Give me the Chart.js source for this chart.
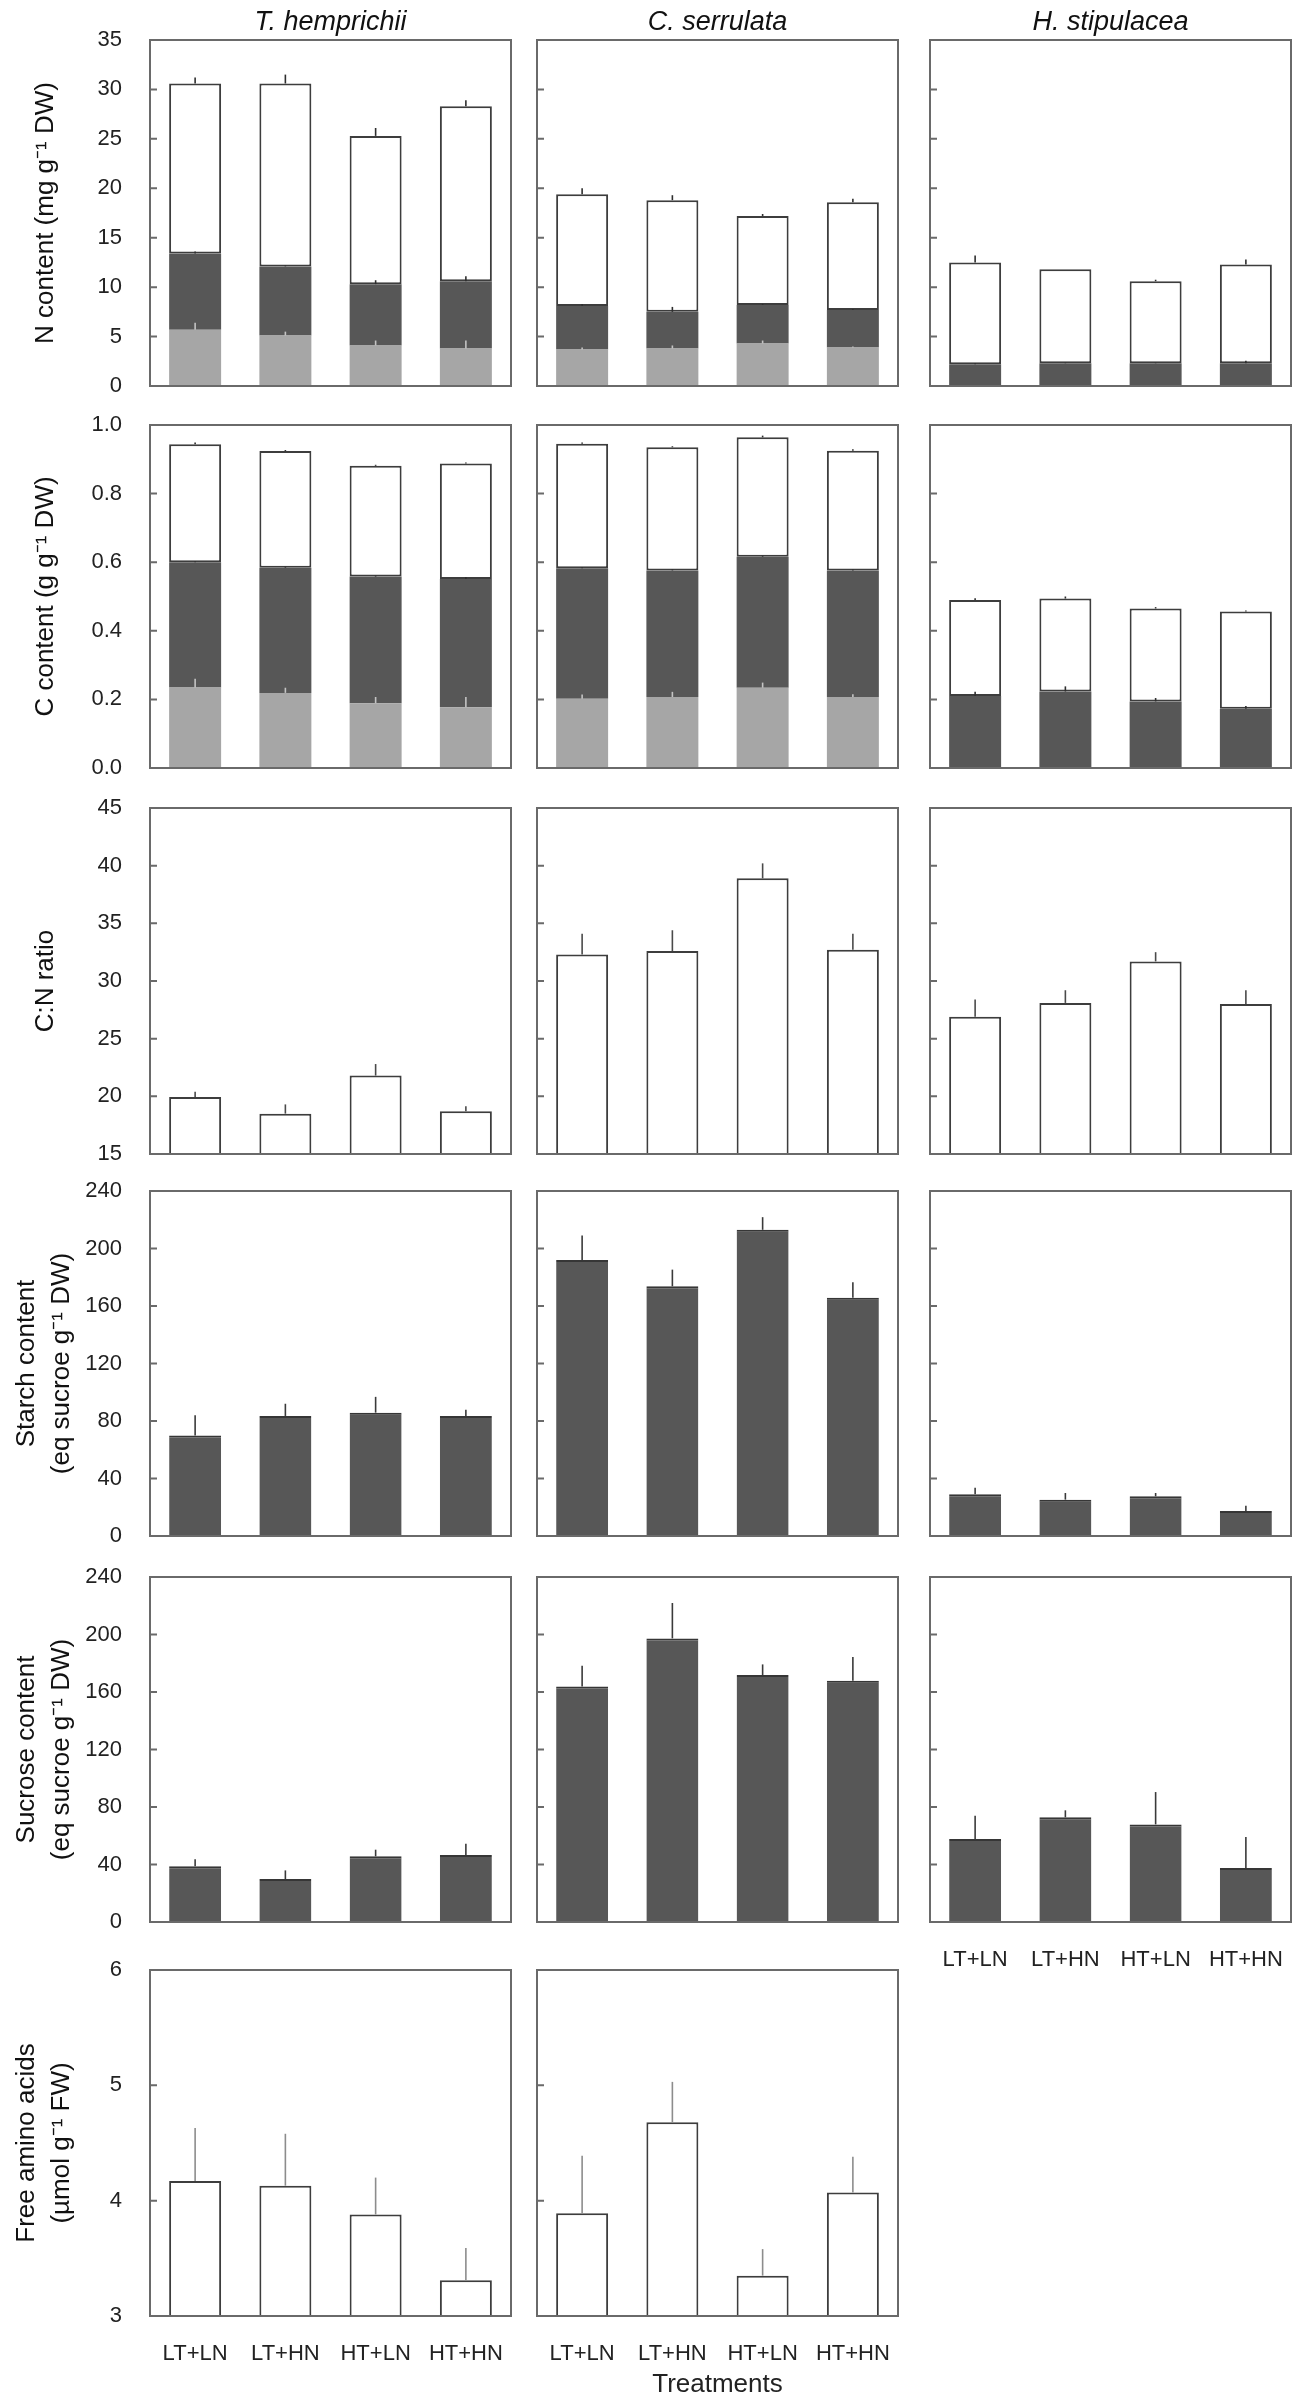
<!DOCTYPE html>
<html><head><meta charset="utf-8">
<script src="https://cdn.jsdelivr.net/npm/chart.js@4.4.1/dist/chart.umd.min.js"></script>
<style>
html,body{margin:0;padding:0;background:#fff;}
#fig{position:relative;width:1313px;height:2400px;background:#fff;overflow:hidden;}
#fig canvas{position:absolute;}
</style></head><body><div id="fig"></div>
<script>
// ---------------- DATA ----------------
const treatments = ['LT+LN', 'LT+HN', 'HT+LN', 'HT+HN'];
const species = ['T. hemprichii', 'C. serrulata', 'H. stipulacea'];

// N content (mg g-1 DW) — stacked segments (bottom light, middle dark, top white)
const nLowTh = [5.7, 5.1, 4.1, 3.8];      const nLowThErr = [0.7, 0.4, 0.5, 0.8];
const nMidTh = [7.7, 7.0, 6.2, 6.8];      const nMidThErr = [0.2, 0.1, 0.4, 0.5];
const nTopTh = [17.2, 18.5, 15.0, 17.7];  const nTopThErr = [0.6, 0.9, 0.8, 0.6];
const nLowCs = [3.7, 3.8, 4.3, 3.9];      const nLowCsErr = [0.2, 0.3, 0.3, 0.1];
const nMidCs = [4.4, 3.7, 3.9, 3.8];      const nMidCsErr = [0.2, 0.5, 0.1, 0.1];
const nTopCs = [11.3, 11.3, 9.0, 10.9];   const nTopCsErr = [0.6, 0.5, 0.2, 0.35];
const nMidHs = [2.2, 2.3, 2.3, 2.3];      const nMidHsErr = [0.1, 0.05, 0.05, 0.25];
const nTopHs = [10.3, 9.5, 8.3, 10.0];    const nTopHsErr = [0.7, 0, 0.15, 0.5];

// C content (g g-1 DW) — stacked segments
const cLowTh = [0.235, 0.219, 0.189, 0.177]; const cLowThErr = [0.025, 0.015, 0.018, 0.03];
const cMidTh = [0.365, 0.365, 0.369, 0.374]; const cMidThErr = [0.003, 0.003, 0.003, 0.006];
const cTopTh = [0.344, 0.340, 0.323, 0.337]; const cTopThErr = [0.005, 0.003, 0.003, 0.003];
const cLowCs = [0.202, 0.207, 0.234, 0.207]; const cLowCsErr = [0.012, 0.015, 0.015, 0.008];
const cMidCs = [0.380, 0.369, 0.382, 0.369]; const cMidCsErr = [0.003, 0.003, 0.003, 0.003];
const cTopCs = [0.363, 0.359, 0.348, 0.349]; const cTopCsErr = [0.004, 0.003, 0.005, 0.004];
const cMidHs = [0.210, 0.223, 0.194, 0.173]; const cMidHsErr = [0.012, 0.015, 0.01, 0.008];
const cTopHs = [0.280, 0.271, 0.271, 0.283]; const cTopHsErr = [0.005, 0.006, 0.004, 0.003];

// C:N ratio
const cnTh = [19.95, 18.5, 21.8, 18.7];  const cnThErr = [0.45, 0.8, 1.0, 0.45];
const cnCs = [32.3, 32.6, 38.9, 32.7];   const cnCsErr = [1.8, 1.8, 1.3, 1.4];
const cnHs = [26.9, 28.1, 31.7, 28.0];   const cnHsErr = [1.5, 1.1, 0.8, 1.2];

// Starch content (eq sucrose g-1 DW)
const starchTh = [70, 83.5, 85.8, 83.5];     const starchThErr = [14, 8.5, 11, 4.4];
const starchCs = [192, 173.7, 213, 165.8];   const starchCsErr = [17, 11.6, 8.8, 10.7];
const starchHs = [29, 25.3, 27.6, 17.4];     const starchHsErr = [4.6, 4.6, 2.3, 3.7];

// Sucrose content (eq sucrose g-1 DW)
const sucroseTh = [38.7, 29.9, 45.7, 46.6];     const sucroseThErr = [5, 6, 4.6, 7.9];
const sucroseCs = [163.9, 197.3, 171.8, 167.9]; const sucroseCsErr = [14.4, 24.6, 7.4, 16.5];
const sucroseHs = [57.7, 72.8, 67.9, 37.6];     const sucroseHsErr = [16.2, 4.9, 22.5, 21.6];

// Free amino acids (umol g-1 FW)
const aminoTh = [4.17, 4.13, 3.88, 3.31];  const aminoThErr = [0.46, 0.45, 0.32, 0.28];
const aminoCs = [3.89, 4.68, 3.35, 4.07];  const aminoCsErr = [0.5, 0.35, 0.23, 0.31];

// Tick values and labels
const nTicks = [0, 5, 10, 15, 20, 25, 30, 35];
const nTickLabels = ['0', '5', '10', '15', '20', '25', '30', '35'];
const cTicks = [0, 0.2, 0.4, 0.6, 0.8, 1.0];
const cTickLabels = ['0.0', '0.2', '0.4', '0.6', '0.8', '1.0'];
const cnTicks = [15, 20, 25, 30, 35, 40, 45];
const cnTickLabels = ['15', '20', '25', '30', '35', '40', '45'];
const sugarTicks = [0, 40, 80, 120, 160, 200, 240];
const sugarTickLabels = ['0', '40', '80', '120', '160', '200', '240'];
const aminoTicks = [3, 4, 5, 6];
const aminoTickLabels = ['3', '4', '5', '6'];

// ---------------- LAYOUT / STYLE ----------------
const FONT = "'Liberation Sans', Arial, Helvetica, sans-serif";
const frameLeft = [150, 537, 930];
const frameRight = [511, 898, 1291];
const frameTop = [40, 425, 808, 1191, 1577, 1970];
const frameBottom = [386, 768, 1154, 1536, 1922, 2316];

const styles = {
  light: {backgroundColor: '#a6a6a6', borderWidth: 0, errorColor: '#c4c4c4'},
  dark:  {backgroundColor: '#575757', borderWidth: 0, errorColor: '#2e2e2e'},
  white: {backgroundColor: '#ffffff', borderColor: '#3d3d3d', borderWidth: 2, borderSkipped: false, errorColor: '#2e2e2e'},
  solid: {backgroundColor: '#575757', borderColor: '#363636', borderWidth: {top: 2, left: 0, right: 0, bottom: 0}, borderSkipped: false, errorColor: '#3a3a3a'},
  open:  {backgroundColor: '#ffffff', borderColor: '#3d3d3d', borderWidth: 2, borderSkipped: false, errorColor: '#4a4a4a'},
  openGray: {backgroundColor: '#ffffff', borderColor: '#3d3d3d', borderWidth: 2, borderSkipped: false, errorColor: '#8c8c8c'}
};

function ds(values, errs, kind) {
  return Object.assign({data: values, errors: errs, barPercentage: 0.576, categoryPercentage: 1.0}, styles[kind]);
}

const rows = [
  {title: 'N content (mg g⁻¹ DW)', min: 0, max: 35, ticks: nTicks, labels: nTickLabels, stacked: true,
   sets: [
     [ds(nLowTh, nLowThErr, 'light'), ds(nMidTh, nMidThErr, 'dark'), ds(nTopTh, nTopThErr, 'white')],
     [ds(nLowCs, nLowCsErr, 'light'), ds(nMidCs, nMidCsErr, 'dark'), ds(nTopCs, nTopCsErr, 'white')],
     [ds(nMidHs, nMidHsErr, 'dark'), ds(nTopHs, nTopHsErr, 'white')]
   ]},
  {title: 'C content (g g⁻¹ DW)', min: 0, max: 1.0, ticks: cTicks, labels: cTickLabels, stacked: true,
   sets: [
     [ds(cLowTh, cLowThErr, 'light'), ds(cMidTh, cMidThErr, 'dark'), ds(cTopTh, cTopThErr, 'white')],
     [ds(cLowCs, cLowCsErr, 'light'), ds(cMidCs, cMidCsErr, 'dark'), ds(cTopCs, cTopCsErr, 'white')],
     [ds(cMidHs, cMidHsErr, 'dark'), ds(cTopHs, cTopHsErr, 'white')]
   ]},
  {title: 'C:N ratio', min: 15, max: 45, ticks: cnTicks, labels: cnTickLabels, stacked: false,
   sets: [[ds(cnTh, cnThErr, 'open')], [ds(cnCs, cnCsErr, 'open')], [ds(cnHs, cnHsErr, 'open')]]},
  {title: ['Starch content', '(eq sucroe g⁻¹ DW)'], min: 0, max: 240, ticks: sugarTicks, labels: sugarTickLabels, stacked: false,
   sets: [[ds(starchTh, starchThErr, 'solid')], [ds(starchCs, starchCsErr, 'solid')], [ds(starchHs, starchHsErr, 'solid')]]},
  {title: ['Sucrose content', '(eq sucroe g⁻¹ DW)'], min: 0, max: 240, ticks: sugarTicks, labels: sugarTickLabels, stacked: false,
   sets: [[ds(sucroseTh, sucroseThErr, 'solid')], [ds(sucroseCs, sucroseCsErr, 'solid')], [ds(sucroseHs, sucroseHsErr, 'solid')]]},
  {title: ['Free amino acids', '(µmol g⁻¹ FW)'], min: 3, max: 6, ticks: aminoTicks, labels: aminoTickLabels, stacked: false,
   sets: [[ds(aminoTh, aminoThErr, 'openGray')], [ds(aminoCs, aminoCsErr, 'openGray')]]}
];

// panels showing x tick labels, and the one carrying the "Treatments" title
const labelPanels = ['4-2', '5-0', '5-1'];
const treatmentsPanel = '5-1';

// ---------------- PLUGIN: error bars, frame, inner ticks ----------------
const panelDecor = {
  id: 'panelDecor',
  afterDatasetsDraw(chart) {
    const ctx = chart.ctx, y = chart.scales.y;
    chart.data.datasets.forEach((d, di) => {
      const meta = chart.getDatasetMeta(di);
      if (!d.errors) return;
      ctx.save();
      ctx.strokeStyle = d.errorColor;
      ctx.lineWidth = 1.6;
      meta.data.forEach((el, i) => {
        const e = d.errors[i];
        if (!e) return;
        const topVal = y.getValueForPixel(el.y);
        const py = y.getPixelForValue(topVal + e);
        ctx.beginPath();
        ctx.moveTo(el.x, el.y);
        ctx.lineTo(el.x, py);
        ctx.stroke();
      });
      ctx.restore();
    });
  },
  afterDraw(chart) {
    const ctx = chart.ctx, a = chart.chartArea, y = chart.scales.y;
    ctx.save();
    ctx.strokeStyle = '#6a6a6a';
    ctx.lineWidth = 2;
    ctx.strokeRect(a.left, a.top, a.right - a.left, a.bottom - a.top);
    ctx.beginPath();
    y.ticks.forEach(t => {
      const py = y.getPixelForValue(t.value);
      ctx.moveTo(a.left, py);
      ctx.lineTo(a.left + 7, py);
    });
    ctx.stroke();
    ctx.restore();
  }
};

// ---------------- BUILD ----------------
const fig = document.getElementById('fig');

rows.forEach((rc, r) => {
  rc.sets.forEach((sets, c) => {
    const key = r + '-' + c;
    const hasLabels = labelPanels.includes(key);
    const hasTreat = key === treatmentsPanel;
    const cl = c === 0 ? 0 : frameLeft[c] - 8;
    const cr = frameRight[c] + 8;
    const ct = r === 0 ? 0 : frameTop[r] - 30;
    const cb = frameBottom[r] + (hasTreat ? 88 : (hasLabels ? 52 : 8));
    const W = cr - cl, H = cb - ct;
    const yW = frameLeft[c] - cl;
    const xH = cb - frameBottom[r];

    const canvas = document.createElement('canvas');
    canvas.width = W; canvas.height = H;
    canvas.style.left = cl + 'px'; canvas.style.top = ct + 'px';
    canvas.style.width = W + 'px'; canvas.style.height = H + 'px';
    fig.appendChild(canvas);

    const twoLine = Array.isArray(rc.title);

    new Chart(canvas, {
      type: 'bar',
      data: {labels: treatments, datasets: sets},
      options: {
        responsive: false,
        animation: false,
        events: [],
        layout: {padding: {left: 0, right: 8, top: r === 0 ? 0 : 30, bottom: 0}},
        plugins: {
          legend: {display: false},
          tooltip: {enabled: false},
          title: {
            display: r === 0,
            text: species[c],
            fullSize: false,
            color: '#111',
            font: {family: FONT, size: 27, style: 'italic', weight: 'normal', lineHeight: 1.2},
            padding: {top: 6, bottom: 1.6}
          }
        },
        scales: {
          x: {
            type: 'category',
            stacked: true,
            grid: {display: false},
            border: {display: false},
            ticks: {display: hasLabels, color: '#222', padding: 17, maxRotation: 0, autoSkip: false,
                    font: {family: FONT, size: 22}},
            title: {display: hasTreat, text: 'Treatments', color: '#222',
                    font: {family: FONT, size: 26, lineHeight: 1.2}, padding: {top: 0, bottom: 4}},
            afterFit: s => { s.height = xH; s.paddingLeft = 0; s.paddingRight = 0; }
          },
          y: {
            type: 'linear',
            stacked: rc.stacked,
            min: rc.min, max: rc.max,
            grid: {display: false},
            border: {display: false},
            afterBuildTicks: s => { s.ticks = rc.ticks.map(v => ({value: v})); },
            ticks: {display: c === 0, color: '#222', padding: 20,
                    font: {family: FONT, size: 22},
                    callback: (v, i) => rc.labels[i]},
            title: {display: c === 0, text: rc.title, color: '#111',
                    font: {family: FONT, size: 26, lineHeight: twoLine ? 1.35 : 1.2},
                    padding: {top: twoLine ? 9 : 30, bottom: 0}},
            afterFit: s => { s.width = yW; s.paddingTop = 0; s.paddingBottom = 0; }
          }
        }
      },
      plugins: [panelDecor]
    });
  });
});
</script></body></html>
